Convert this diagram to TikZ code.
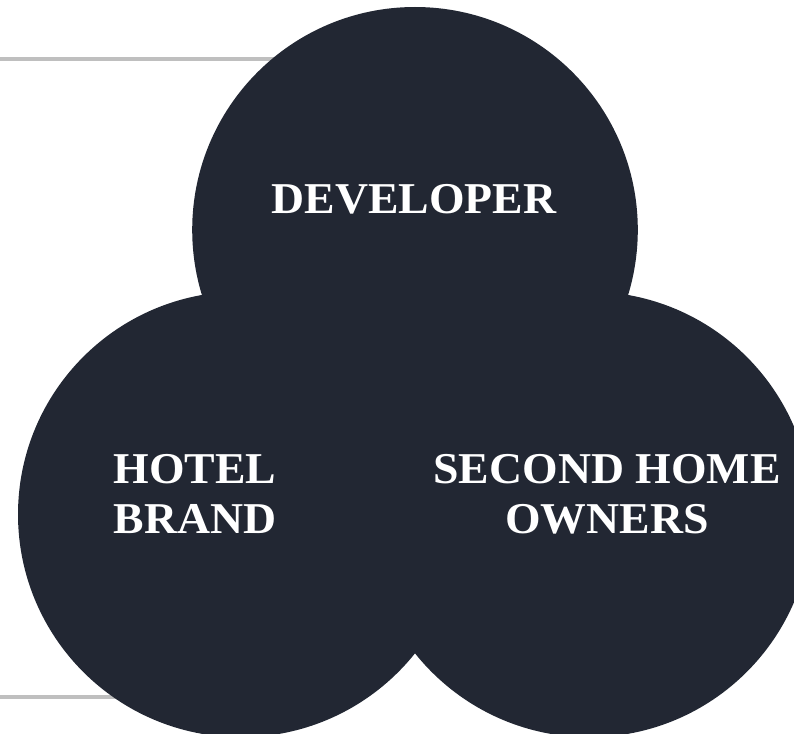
\documentclass[tikz,border=0pt]{standalone}
\usepackage{fontspec}
\setmainfont{Liberation Serif}
\newfontfamily\lblfont[FakeStretch=1.04]{Liberation Serif}
\definecolor{circ}{RGB}{34,39,51}
\definecolor{rulegray}{RGB}{191,191,191}
\begin{document}
\begin{tikzpicture}[x=1pt,y=-1pt,
  blob/.style={circle, fill=circ, draw=none, minimum size=445.6pt, inner sep=0pt},
  lbl/.style={text=white, font=\lblfont\fontsize{44}{51}\selectfont\bfseries, align=center, inner sep=0pt, anchor=base},
  guide/.style={draw=rulegray, line width=4pt}]
\clip (0,0) rectangle (794,733);
\fill[white] (0,0) rectangle (794,733);
% guide lines (behind the circles)
\coordinate (topA) at (0,59);
\coordinate (topB) at (300,59);
\coordinate (botA) at (0,697);
\coordinate (botB) at (160,697);
\draw[guide] (topA) -- (topB);
\draw[guide] (botA) -- (botB);
% circles
\node[blob] (devc) at (415,229.8) {};
\node[blob] (hotc) at (240.8,514.4) {};
\node[blob] (ownc) at (589.2,514.4) {};
% labels
\node[lbl] (dev) at (414,213) {DEVELOPER};
\node[lbl] (hot1) at (195,483) {HOTEL};
\node[lbl] (hot2) at (195,533) {BRAND};
\node[lbl] (own1) at (607,483) {SECOND HOME};
\node[lbl] (own2) at (607,533) {OWNERS};
\end{tikzpicture}
\end{document}
